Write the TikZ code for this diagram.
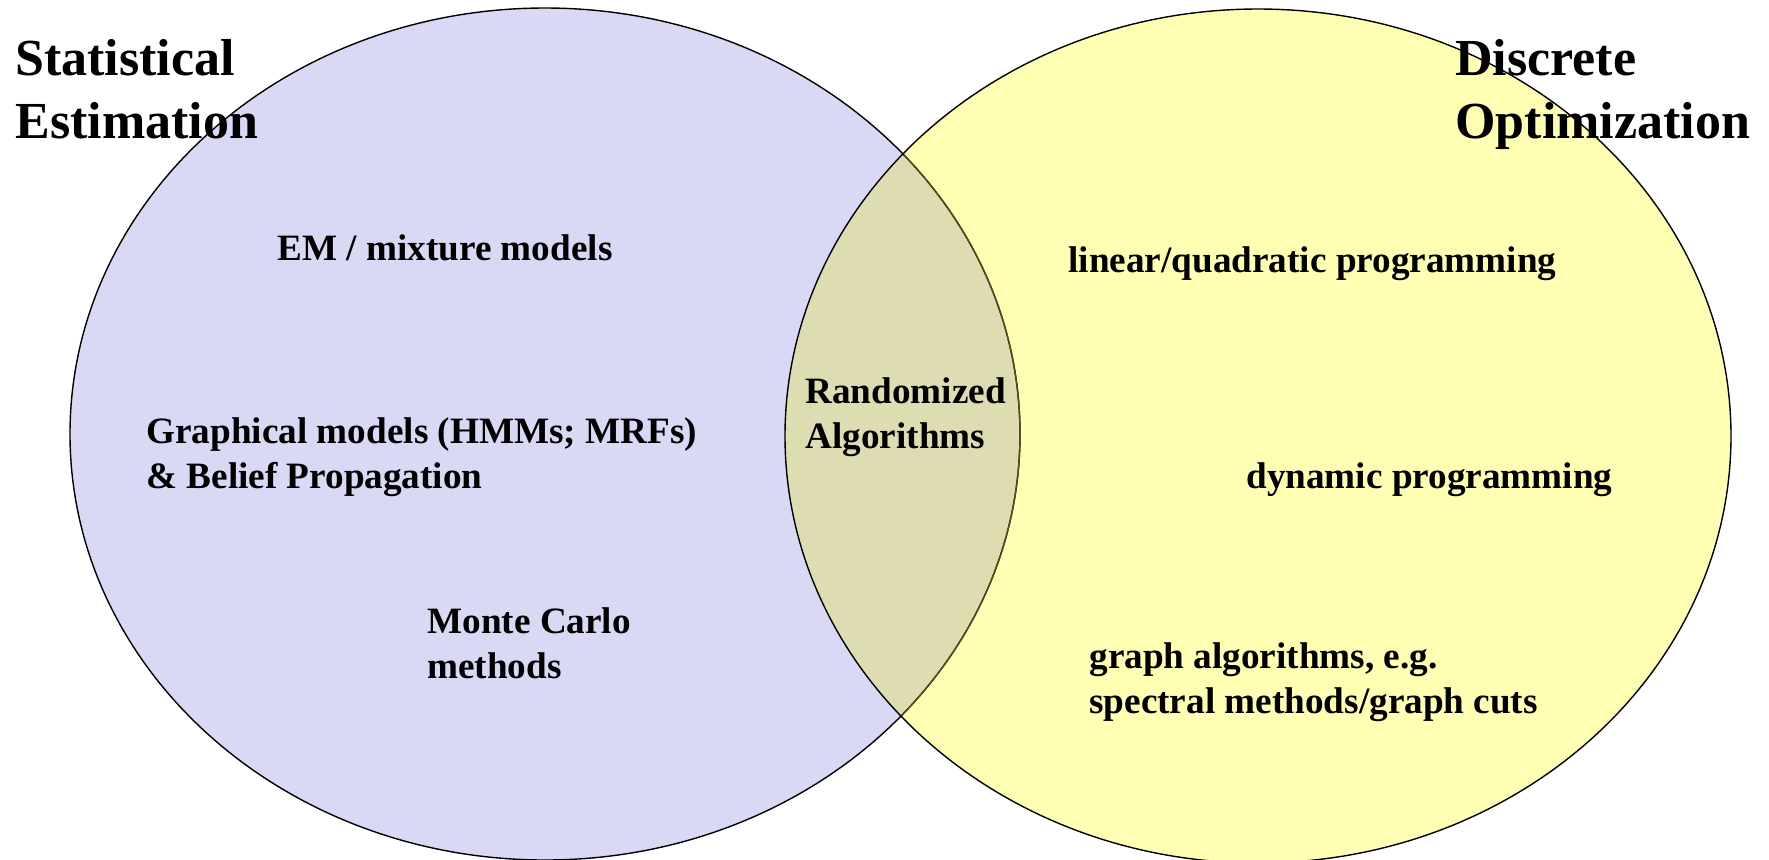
\documentclass[tikz,border=0pt]{standalone}
\usepackage{fontspec}
\setmainfont{Liberation Serif}
\definecolor{estblue}{RGB}{217,217,245}
\definecolor{optyellow}{RGB}{255,255,180}
\definecolor{bothmix}{RGB}{222,221,178}
\definecolor{bothedge}{RGB}{80,80,30}
\tikzset{
  settitle/.style={font=\fontsize{26}{31.5}\selectfont\bfseries,inner sep=0,anchor=base west,align=left},
  setitem/.style={font=\fontsize{18.6}{22.5}\selectfont\bfseries,inner sep=0,anchor=base west,align=left},
  setedge/.style={line width=0.7pt}
}
\begin{document}
\begin{tikzpicture}[x=0.5pt,y=-0.5pt]
\useasboundingbox (0,0) rectangle (1769,859);

% The two sets
\fill[estblue] (545,434) ellipse [x radius=475,y radius=426];
\fill[optyellow] (1258,436) ellipse [x radius=473,y radius=427];
\begin{scope}
  \clip (545,434) ellipse [x radius=475,y radius=426];
  \fill[bothmix] (1258,436) ellipse [x radius=473,y radius=427];
\end{scope}

% Outlines
\draw[setedge] (545,434) ellipse [x radius=475,y radius=426];
\begin{scope}
  \clip (1258,436) ellipse [x radius=473,y radius=427];
  \draw[setedge,bothedge] (545,434) ellipse [x radius=475,y radius=426];
\end{scope}
\draw[setedge] (1258,436) ellipse [x radius=473,y radius=427];

% Titles (anchored at the last line)
\node[settitle] (stat) at (15,138) {Statistical\\Estimation};
\node[settitle] (disc) at (1455,138) {Discrete\\Optimization};

% Left set
\node[setitem] (em) at (277,260) {EM / mixture models};
\node[setitem] (graphical) at (146,488) {Graphical models (HMMs; MRFs)\\\& Belief Propagation};
\node[setitem] (montecarlo) at (427,678) {Monte Carlo\\methods};

% Overlap
\node[setitem] (rand) at (805,448) {Randomized\\Algorithms};

% Right set
\node[setitem] (linquad) at (1068,272) {linear/quadratic programming};
\node[setitem] (dynprog) at (1246,488) {dynamic programming};
\node[setitem] (graphalg) at (1089,713) {graph algorithms, e.g.\\spectral methods/graph cuts};
\end{tikzpicture}
\end{document}
